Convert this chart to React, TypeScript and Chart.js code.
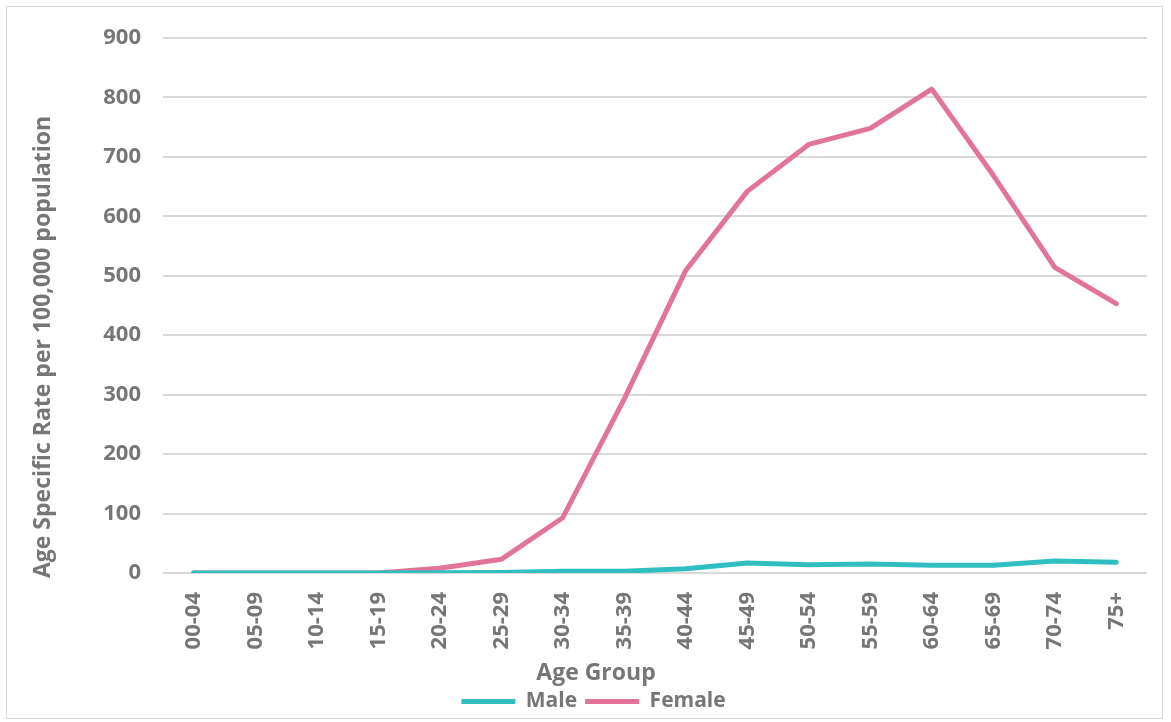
import React, { useEffect, useRef } from "react";
import { Chart, registerables } from "chart.js";

Chart.register(...registerables);

const categories = ["00-04", "05-09", "10-14", "15-19", "20-24", "25-29", "30-34", "35-39", "40-44", "45-49", "50-54", "55-59", "60-64", "65-69", "70-74", "75+"];
const maleValues = [0, 0, 0, 0, 0.5, 1, 3, 3, 7, 17, 14, 15, 13, 13, 20, 18];
const femaleValues = [0, 0, 0, 0, 8, 23, 93, 293, 509, 642, 721, 748, 814, 669, 514, 453];
const yTicks = [0, 100, 200, 300, 400, 500, 600, 700, 800, 900];

const TEXT = "#767676";
const FONT = "'Open Sans'";

const titlesPlugin = {
  id: "titles",
  afterDraw(chart: any) {
    const ctx = chart.ctx;
    ctx.save();
    ctx.fillStyle = TEXT;
    ctx.font = `bold 23px ${FONT}`;
    ctx.textAlign = "center";
    ctx.textBaseline = "middle";
    ctx.translate(43, 347);
    ctx.rotate(-Math.PI / 2);
    ctx.fillText("Age Specific Rate per 100,000 population", 0, 0);
    ctx.restore();
    ctx.save();
    ctx.fillStyle = TEXT;
    ctx.font = `bold 23px ${FONT}`;
    ctx.textAlign = "center";
    ctx.textBaseline = "middle";
    ctx.fillText("Age Group", 596, 673);
    ctx.restore();
  },
};

export default function App() {
  const ref = useRef<HTMLCanvasElement | null>(null);
  useEffect(() => {
    if (!ref.current) return;
    const chart = new Chart(ref.current, {
      type: "line",
      data: {
        labels: categories,
        datasets: [
          {
            label: "Male",
            data: maleValues,
            borderColor: "#30BEBE",
            backgroundColor: "#30BEBE",
            borderWidth: 5,
            pointRadius: 0,
            pointStyle: "line",
            borderCapStyle: "round",
            borderJoinStyle: "round",
          },
          {
            label: "Female",
            data: femaleValues,
            borderColor: "#E27497",
            backgroundColor: "#E27497",
            borderWidth: 5,
            pointRadius: 0,
            pointStyle: "line",
            borderCapStyle: "round",
            borderJoinStyle: "round",
          },
        ],
      },
      options: {
        responsive: false,
        animation: false,
        layout: { padding: { left: 40, right: 24, top: 38, bottom: 0 } },
        plugins: {
          legend: {
            position: "bottom",
            labels: {
              usePointStyle: true,
              pointStyleWidth: 54,
              boxHeight: 21,
              color: TEXT,
              font: { family: FONT, size: 21, weight: "bold" },
              padding: 8,
            },
          },
          tooltip: { enabled: false },
        },
        scales: {
          x: {
            offset: true,
            grid: { display: false },
            border: { display: false },
            ticks: {
              color: TEXT,
              font: { family: FONT, size: 22, weight: "bold" },
              maxRotation: 90,
              minRotation: 90,
              padding: 11,
              autoSkip: false,
            },
            afterFit(s: any) {
              s.height = 110;
            },
          },
          y: {
            min: 0,
            max: 900,
            afterBuildTicks(s: any) {
              s.ticks = yTicks.map((v) => ({ value: v }));
            },
            grid: { color: "#D9D9D9", lineWidth: 2, drawTicks: false },
            border: { display: false },
            ticks: {
              color: TEXT,
              font: { family: FONT, size: 22, weight: "bold" },
              padding: 22,
            },
            afterFit(s: any) {
              s.width = 123;
            },
          },
        },
      },
      plugins: [titlesPlugin],
    } as any);
    return () => chart.destroy();
  }, []);
  return (
    <div style={{ position: "fixed", left: 0, top: 0, width: 1171, height: 722, background: "#fff" }}>
      <div style={{ position: "absolute", left: 6, top: 6, width: 1155, height: 711, border: "1px solid #D9D9D9" }} />
      <canvas ref={ref} width={1171} height={722} style={{ position: "absolute", left: 0, top: 0 }} />
    </div>
  );
}
